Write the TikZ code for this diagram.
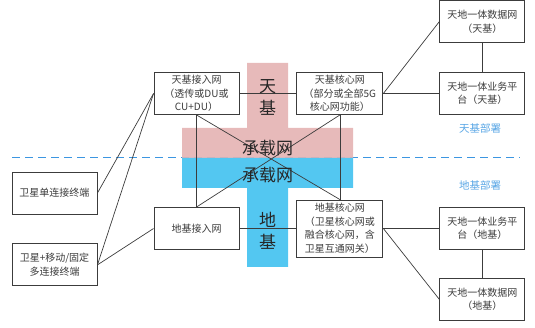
\documentclass[tikz,border=0pt]{standalone}
\usepackage{fontspec}
\setmainfont{Noto Sans CJK SC}
\usetikzlibrary{positioning}
\definecolor{bearerPink}{RGB}{229, 180, 180}
\definecolor{bearerBlue}{RGB}{68, 194, 240}
\definecolor{deployBlue}{RGB}{60, 150, 225}
\definecolor{boxGray}{RGB}{60, 60, 60}
\begin{document}
\begin{tikzpicture}[
    x=1pt, y=1pt,
    every node/.style={font=\fontsize{10}{13.5}\selectfont, text=boxGray},
    netbox/.style={rectangle, draw=boxGray, fill=white, line width=0.9pt, minimum width=85pt, minimum height=42pt, inner sep=2pt, align=center},
    link/.style={draw=boxGray, line width=0.7pt},
    bigtext/.style={font=\fontsize{17}{22}\selectfont, text=black!85, align=center},
    deploy/.style={font=\fontsize{10.5}{12}\selectfont, text=deployBlue!85},
    boundary/.style={color=deployBlue, line width=1.6pt, dash pattern=on 8pt off 5pt}
]
\useasboundingbox (0,0) rectangle (535,328);

% Access networks
\node[netbox] (skyacc) at (196.5,234.5) {天基接入网\\（透传或DU或\\CU+DU）};
\node[netbox] (gndacc) at (196.5,99.5) {地基接入网};

% Core networks
\node[netbox, minimum width=86pt, right=57pt of skyacc] (skycore) {天基核心网\\（部分或全部5G\\核心网功能）};
\node[netbox, minimum width=86pt, minimum height=57pt, right=57pt of gndacc] (gndcore) {地基核心网\\（卫星核心网或\\融合核心网，含\\卫星互通网关）};

% Platforms and data networks
\node[netbox, right=56pt of skycore] (skyplat) {天地一体业务平\\台（天基）};
\node[netbox, above=29pt of skyplat] (skydata) {天地一体数据网\\（天基）};
\node[netbox, right=56pt of gndcore] (gndplat) {天地一体业务平\\台（地基）};
\node[netbox, below=28pt of gndplat] (gnddata) {天地一体数据网\\（地基）};

% Terminals
\node[netbox] (single) at (54.5,135) {卫星单连接终端};
\node[netbox, below=29pt of single] (multi) {卫星+移动/固定\\多连接终端};

% Deployment boundary
\coordinate (lineL) at (12,170.5);
\coordinate (lineR) at (520,170.5);
\draw[boundary] (lineL) -- (lineR);
\node[deploy] (skydeploy) at (480,200) {天基部署};
\node[deploy] (gnddeploy) at (480,143) {地基部署};

% Bearer network areas
\fill[bearerPink, opacity=0.92] (182,200) -- (247,200) -- (247,265) -- (288,265) -- (288,200) -- (353,200) -- (353,170) -- (182,170) -- cycle;
\fill[bearerBlue, opacity=0.92] (182,170) -- (353,170) -- (353,140) -- (288,140) -- (288,61) -- (247,61) -- (247,140) -- (182,140) -- cycle;

% Terminal links
\draw[link] (skyacc.west) -- (single.east);
\draw[link] (skyacc.west) -- (multi.east);
\draw[link] (gndacc.west) -- (multi.east);

% Access to core
\draw[link] (skyacc) -- (skycore);
\draw[link] (gndacc) -- (gndcore);
\draw[link] (skyacc) -- (gndacc);
\draw[link] (skycore) -- (gndcore);
\draw[link] (skyacc.south) -- (gndcore.north);
\draw[link] (gndacc.north) -- (skycore.south);

% Core to platforms
\draw[link] (skycore.east) -- (skydata.west);
\draw[link] (skycore) -- (skyplat);
\draw[link] (skydata) -- (skyplat);
\draw[link] (gndcore) -- (gndplat);
\draw[link] (gndcore.east) -- (gnddata.west);
\draw[link] (gndplat) -- (gnddata);

% Bearer labels
\node[bigtext] (skyword) at (267.5,230.5) {天\\基};
\node[bigtext] (skybearer) at (267.5,180) {承载网};
\node[bigtext] (gndbearer) at (267.5,153) {承载网};
\node[bigtext] (gndword) at (267.5,97) {地\\基};

\end{tikzpicture}
\end{document}
